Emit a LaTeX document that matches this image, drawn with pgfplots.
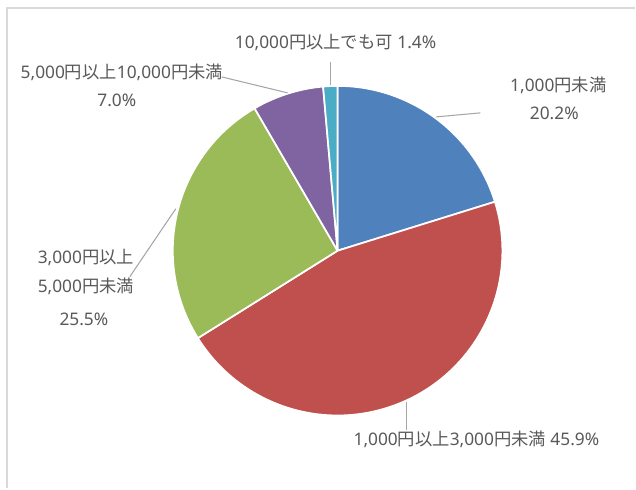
\documentclass[border=0pt]{standalone}
\usepackage{pgfplots}
\pgfplotsset{compat=1.18}
\usepackage{pgfplotstable}
\usepackage{fontspec}
\setmainfont{Noto Sans CJK JP}
\newfontfamily\lat{Noto Sans}

\definecolor{pie0}{HTML}{4F81BD}
\definecolor{pie1}{HTML}{C0504D}
\definecolor{pie2}{HTML}{9BBB59}
\definecolor{pie3}{HTML}{8064A2}
\definecolor{pie4}{HTML}{4BACC6}
\definecolor{labelgray}{HTML}{595959}
\definecolor{leader}{HTML}{A6A6A6}
\definecolor{frame}{HTML}{D9D9D9}

% shares in percent, clockwise from 12 o'clock
\pgfplotstableread{
pct
20.2
45.9
25.5
7.0
1.4
}\piedata

\newcommand\n[1]{{\lat #1}}
\tikzset{lbl/.style={font=\fontsize{13}{15}\selectfont, text=labelgray, inner sep=0pt}}

\begin{document}
\begin{tikzpicture}
% start/end angle of each slice
\gdef\cum{0}
\pgfplotsforeachungrouped \i in {0,...,4}{%
  \pgfplotstablegetelem{\i}{pct}\of\piedata
  \pgfmathsetmacro\s{90-3.6*\cum}
  \pgfmathsetmacro\cumnew{\cum+\pgfplotsretval}
  \pgfmathsetmacro\e{90-3.6*\cumnew}
  \expandafter\xdef\csname pieS\i\endcsname{\s}
  \expandafter\xdef\csname pieE\i\endcsname{\e}
  \xdef\cum{\cumnew}
}
\def\R{123.75pt}
\begin{axis}[
    x=0.75pt, y=0.75pt,
    xmin=0, xmax=636, ymin=0, ymax=489,
    y dir=reverse,
    hide axis,
    clip=false,
    anchor=origin,
  ]
  \path (axis cs:0,0) rectangle (axis cs:636,489);
  \draw[frame, line width=1.2pt] (axis cs:7,489) -- (axis cs:7,8) -- (axis cs:636,8);

  \pgfplotsinvokeforeach{0,...,4}{%
    \edef\tmp{\noexpand\filldraw[fill=pie#1, draw=white, line width=1.3pt, line join=round]
      (axis cs:338,251) -- ++(\csname pieS#1\endcsname:\R)
      arc[start angle=\csname pieS#1\endcsname, end angle=\csname pieE#1\endcsname, radius=\R] -- cycle;}%
    \tmp
  }

  % leader lines
  \draw[leader, line width=0.8pt] (axis cs:331,62) -- (axis cs:331,85);
  \draw[leader, line width=0.8pt] (axis cs:222,77) -- (axis cs:288,93);
  \draw[leader, line width=0.8pt] (axis cs:437,117) -- (axis cs:481,113);
  \draw[leader, line width=0.8pt] (axis cs:176,209) -- (axis cs:130,277);
  \draw[leader, line width=0.8pt] (axis cs:407,402) -- (axis cs:407,431);

  % data labels
  \node[lbl] at (axis cs:336,43) {\n{10,000}円以上でも可\n{ 1.4\%}};
  \node[lbl] at (axis cs:122,72) {\n{5,000}円以上\n{10,000}円未満};
  \node[lbl] at (axis cs:117,100) {\n{7.0\%}};
  \node[lbl] at (axis cs:559,85) {\n{1,000}円未満};
  \node[lbl] at (axis cs:555,113) {\n{20.2\%}};
  \node[lbl] at (axis cs:86,258) {\n{3,000}円以上};
  \node[lbl] at (axis cs:86,287) {\n{5,000}円未満};
  \node[lbl] at (axis cs:84,320) {\n{25.5\%}};
  \node[lbl] at (axis cs:477,440) {\n{1,000}円以上\n{3,000}円未満\n{ 45.9\%}};
\end{axis}
\end{tikzpicture}
\end{document}
